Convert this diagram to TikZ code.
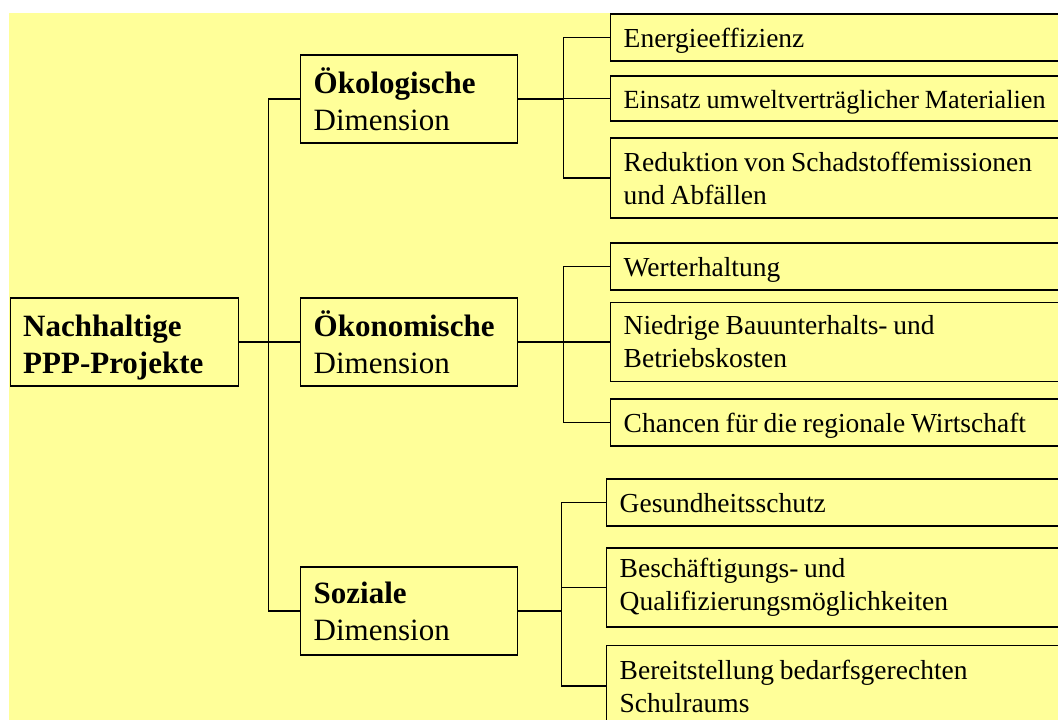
\documentclass[tikz,border=0pt]{standalone}
\usepackage{fontspec}
\setmainfont{Liberation Serif}
\definecolor{bgyellow}{HTML}{FFFF99}
\newcommand\tightspaces{\spaceskip=5.8pt plus 1pt minus 1pt\relax}
\begin{document}
\begin{tikzpicture}[x=1pt,y=-1pt,
  box/.style={draw=black,line width=1.4pt,fill=bgyellow,inner xsep=13pt,inner ysep=0pt,anchor=west,align=left},
  titlebox/.style={box,font=\fontsize{31}{37}\selectfont,text width=191pt,minimum height=88pt},
  leafbox/.style={box,font=\fontsize{27.5}{33}\selectfont,execute at begin node=\tightspaces,text width=480pt},
  oneline/.style={leafbox,text height=24pt,text depth=4pt},
  conn/.style={line width=1.4pt}]
\useasboundingbox (0,0) rectangle (1058,720);
\clip (0,0) rectangle (1058,720);
\fill[bgyellow] (9,13) rectangle (1060,722);
% root
\node[titlebox,text width=202pt] (root) at (9.5,342) {\textbf{\vphantom{Ö}Nachhaltige}\\\raisebox{0pt}[\height][0pt]{\textbf{PPP-Projekte}}};
% dimensions
\node[titlebox] (d1) at (300,99) {\textbf{Ökologische}\\Dimension};
\node[titlebox] (d2) at (300,342) {\textbf{Ökonomische}\\Dimension};
\node[titlebox] (d3) at (300,611) {\textbf{Soziale}\\Dimension};
% leaves
\node[oneline,minimum height=47pt] (l11) at (610,37.5) {Energieeffizienz};
\node[oneline,minimum height=45pt,font=\fontsize{26.2}{33}\selectfont] (l12) at (610,98.5) {Einsatz umweltverträglicher Materialien};
\node[leafbox,minimum height=80pt] (l13) at (610,178) {Reduktion von Schadstoffemissionen\\und Abfällen};
\node[oneline,minimum height=47pt] (l21) at (610,266.5) {Werterhaltung};
\node[leafbox,minimum height=79pt] (l22) at (610,342) {Niedrige Bauunterhalts- und\\Betriebskosten};
\node[oneline,minimum height=47pt] (l23) at (610,422.5) {Chancen für die regionale Wirtschaft};
\node[oneline,minimum height=47pt] (l31) at (606,502.5) {Gesundheitsschutz};
\node[leafbox,minimum height=79pt] (l32) at (606,587.5) {Beschäftigungs- und\\Qualifizierungsmöglichkeiten};
\node[leafbox,minimum height=81pt] (l33) at (606,686) {Bereitstellung bedarfsgerechten\\Schulraums};
% junction coordinates
\coordinate (t0) at (268.5,0);
\coordinate (g1) at (563.5,0);
\coordinate (g2) at (563.5,0);
\coordinate (g3) at (561.5,0);
% trunk
\draw[conn] (root.east) -- (root.east -| t0);
\draw[conn] (d1.west) -- (d1.west -| t0) -- (d3.west -| t0) -- (d3.west);
\draw[conn] (d2.west) -- (d2.west -| t0);
% group 1
\draw[conn] (d1.east) -- (d1.east -| g1);
\draw[conn] (l11.west) -- (l11.west -| g1) -- (l13.west -| g1) -- (l13.west);
\draw[conn] (l12.west) -- (l12.west -| g1);
% group 2
\draw[conn] (d2.east) -- (d2.east -| g2);
\draw[conn] (l21.west) -- (l21.west -| g2) -- (l23.west -| g2) -- (l23.west);
\draw[conn] (l22.west) -- (l22.west -| g2);
% group 3
\draw[conn] (d3.east) -- (d3.east -| g3);
\draw[conn] (l31.west) -- (l31.west -| g3) -- (l33.west -| g3) -- (l33.west);
\draw[conn] (l32.west) -- (l32.west -| g3);
\end{tikzpicture}
\end{document}
